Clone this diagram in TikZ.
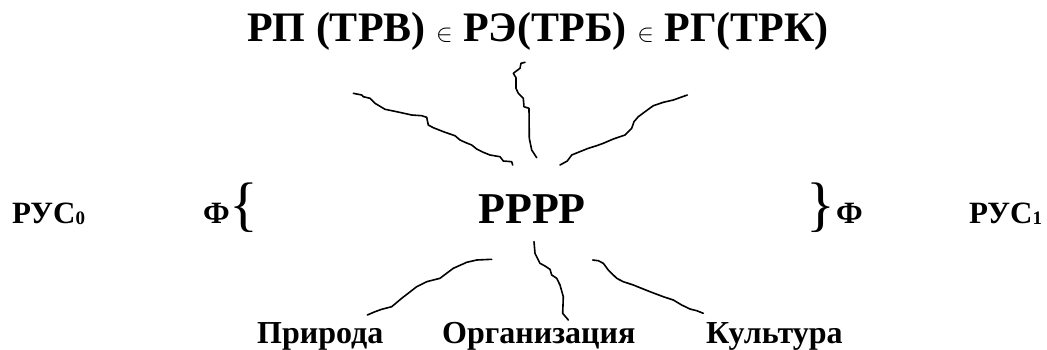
\documentclass[tikz,border=0pt]{standalone}
\usepackage{fontspec}
\setmainfont{Liberation Serif}
\begin{document}
\begin{tikzpicture}[x=1pt,y=-1pt,
  big/.style={font=\bfseries\fontsize{42}{42}\selectfont, inner sep=0pt, anchor=base},
  mid/.style={font=\bfseries\fontsize{31}{31}\selectfont, inner sep=0pt, anchor=base west},
  lbl/.style={font=\bfseries\fontsize{32}{32}\selectfont, inner sep=0pt, anchor=base west},
  brace/.style={font=\fontsize{60}{60}\selectfont, inner sep=0pt, anchor=base west},
  curve/.style={line width=1.6pt, line join=round, line cap=round}]
\useasboundingbox (0,0) rectangle (1047,349);
% texts
\node[big] (title) at (538,41) {РП (ТРВ) $\in$ РЭ(ТРБ) $\in$ РГ(ТРК)};
\node[big, font=\bfseries\fontsize{44}{44}\selectfont] (core) at (532,223) {РРРР};
\node[mid] (rus0) at (12,223) {РУС\raisebox{-1pt}{\fontsize{19}{19}\selectfont 0}};
\node[mid] (f0) at (203,223) {Ф};
\node[brace] (b0) at (233,224) {\makebox[21pt][c]{\{}};
\node[brace] (b1) at (810,224) {\makebox[21pt][c]{\}}};
\node[mid] (f1) at (836,223) {Ф};
\node[mid] (rus1) at (969,223) {РУС\raisebox{-1pt}{\fontsize{19}{19}\selectfont 1}};
\node[lbl] (nat) at (257,343) {Природа};
\node[lbl] (org) at (442,343) {Организация};
\node[lbl] (cul) at (706,343) {Культура};
% curve end points
\coordinate (tl) at (353.3,93.3);  \coordinate (tlc) at (512.7,165);
\coordinate (tm) at (525,62.3);    \coordinate (tmc) at (536.7,157.7);
\coordinate (tr) at (687.3,95);    \coordinate (trc) at (560,165);
\coordinate (bl) at (367.3,315);   \coordinate (blc) at (491.7,259.3);
\coordinate (bm) at (568.3,320);   \coordinate (bmc) at (534,241.7);
\coordinate (br) at (703.3,313.3); \coordinate (brc) at (592.7,260);
% upper curves
\draw[curve] (tl) -- (361.7,95) -- (363.3,96.7) -- (370,98.3) -- (375,103.3) -- (385,109.3)
  -- (396.7,111.7) -- (411.7,115) -- (421.7,115.7) -- (426.7,117.3) -- (428.3,125)
  -- (433.3,127.7) -- (445,132.3) -- (455,135.7) -- (460,140) -- (465,142.3)
  -- (471.7,145) -- (476.7,149) -- (483.3,152.3) -- (490,155) -- (500,156.7)
  -- (503.3,161) -- (511.7,161.7) -- (tlc);
\draw[curve] (tm) -- (521,63.3) -- (520,68.3) -- (513.3,73.3) -- (516,77.7) -- (516,88.3)
  -- (518.3,93.3) -- (523.3,98.3) -- (524,106.7) -- (529,108.3) -- (529.3,138.3)
  -- (531.7,150) -- (tmc);
\draw[curve] (tr) -- (673.3,100) -- (663.3,102.3) -- (653.3,105.7) -- (645,111.7)
  -- (638.3,116.7) -- (634,121.7) -- (631.7,128.3) -- (625,135) -- (613.3,139)
  -- (603.3,143.3) -- (596.7,145.7) -- (588.3,148.3) -- (578.3,152.3) -- (571.7,155)
  -- (567.3,161) -- (trc);
% lower curves
\draw[curve] (blc) -- (476.7,260) -- (466.7,262.3) -- (453.3,268.3) -- (440,278.3)
  -- (433.3,280) -- (426.7,281.7) -- (416.7,286.7) -- (401.7,298.3) -- (391.7,306.7)
  -- (381.7,309.3) -- (375,311.7) -- (bl);
\draw[curve] (bmc) -- (535,253.3) -- (540,263.3) -- (545,266) -- (550,269.3)
  -- (551.7,275) -- (556.7,278.3) -- (560,285) -- (563.3,296.7) -- (562.7,313.3) -- (bm);
\draw[curve] (brc) -- (598.3,260.7) -- (603.3,263.3) -- (608.3,270) -- (616.7,278.3)
  -- (623.3,281.7) -- (633.3,285) -- (650,291.7) -- (663.3,296.7) -- (673.3,300)
  -- (681.7,305) -- (690,309) -- (696.7,310.7) -- (br);
\end{tikzpicture}
\end{document}
